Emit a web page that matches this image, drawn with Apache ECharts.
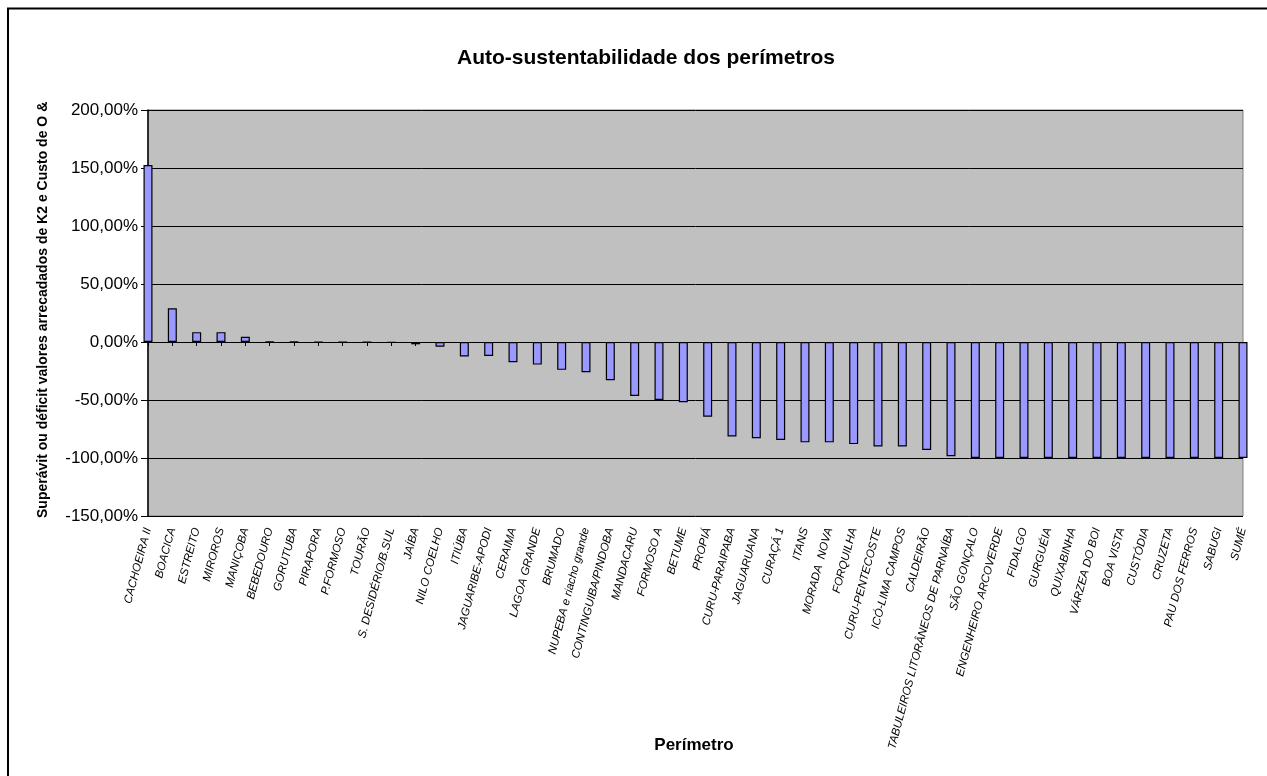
<!DOCTYPE html>
<html>
<head>
<meta charset="utf-8">
<script src="https://cdn.jsdelivr.net/npm/echarts@6/dist/echarts.min.js"></script>
<style>
  html, body { margin: 0; padding: 0; background: #fff; }
  #chart { width: 1267px; height: 776px; }
</style>
</head>
<body>
<div id="chart"></div>
<script>
// Perimeters, ordered from surplus to deficit
const perimetros = [
  'CACHOEIRA II', 'BOACICA', 'ESTREITO', 'MIROROS', 'MANIÇOBA', 'BEBEDOURO',
  'GORUTUBA', 'PIRAPORA', 'P.FORMOSO', 'TOURÃO', 'S. DESIDÉRIO/B.SUL', 'JAÍBA',
  'NILO COELHO', 'ITIÚBA', 'JAGUARIBE-APODI', 'CERAIMA', 'LAGOA GRANDE', 'BRUMADO',
  'NUPEBA e riacho grande', 'CONTINGUIBA/PINDOBA', 'MANDACARU', 'FORMOSO A', 'BETUME',
  'PROPIÁ', 'CURU-PARAIPABA', 'JAGUARUANA', 'CURAÇÁ 1', 'ITANS', 'MORADA  NOVA',
  'FORQUILHA', 'CURU-PENTECOSTE', 'ICÓ-LIMA CAMPOS', 'CALDEIRÃO',
  'TABULEIROS LITORÂNEOS DE PARNAÍBA', 'SÃO GONÇALO', 'ENGENHEIRO ARCOVERDE',
  'FIDALGO', 'GURGUÉIA', 'QUIXABINHA', 'VÁRZEA DO BOI', 'BOA VISTA', 'CUSTÓDIA',
  'CRUZETA', 'PAU DOS FERROS', 'SABUGI', 'SUMÉ'
];

// Surplus (+) or deficit (-) of K2 revenue against O & M cost, in percent
const saldoPercentual = [
  152.5, 29, 8.5, 8.5, 4.5, 0.4,
  0.3, 0, 0, 0, -0.4, -2,
  -4, -12.5, -12, -17.5, -19.5, -24,
  -26, -33, -46.5, -50, -52,
  -64.5, -81.5, -83, -84.5, -86.5, -86.5,
  -88, -90, -90, -93,
  -98.5, -100, -100,
  -100, -100, -100, -100, -100, -100,
  -100, -100, -100, -100
];

// Value axis tick settings (percent)
const eixoY = { min: -150, max: 200, step: 50 };

const FONT = '"Liberation Sans", Arial, sans-serif';
const fmtPct = v => v.toFixed(2).replace('.', ',') + '%';

const chart = echarts.init(document.getElementById('chart'), null, { renderer: 'canvas' });

chart.setOption({
  animation: false,
  backgroundColor: '#ffffff',
  title: {
    text: 'Auto-sustentabilidade dos perímetros',
    left: 641,
    textAlign: 'center',
    top: 43,
    textStyle: { fontFamily: FONT, fontSize: 21, fontWeight: 'bold', color: '#000' }
  },
  grid: {
    left: 148, right: 24, top: 110, bottom: 260,
    show: true,
    backgroundColor: '#c0c0c0',
    borderColor: '#808080',
    borderWidth: 1
  },
  xAxis: [
    {
      // category labels along the bottom of the plot
      type: 'category',
      data: perimetros,
      boundaryGap: false,
      position: 'bottom',
      axisLine: { show: false, onZero: false },
      axisTick: { show: false },
      axisLabel: {
        interval: 0,
        rotate: 75,
        margin: 12,
        fontFamily: FONT,
        fontSize: 11.5,
        fontStyle: 'italic',
        color: '#000'
      },
      splitLine: { show: false }
    },
    {
      // zero line with its category ticks
      type: 'category',
      data: perimetros,
      boundaryGap: false,
      position: 'bottom',
      axisLine: { show: true, onZero: true, lineStyle: { color: '#000', width: 1 } },
      axisTick: { show: true, interval: 0, length: 4, lineStyle: { color: '#000', width: 1 } },
      axisLabel: { show: false },
      splitLine: { show: false }
    }
  ],
  yAxis: {
    type: 'value',
    min: eixoY.min,
    max: eixoY.max,
    interval: eixoY.step,
    axisLine: { show: true, lineStyle: { color: '#000', width: 1.5 } },
    axisTick: { show: true, length: 7, lineStyle: { color: '#000', width: 1 } },
    axisLabel: {
      formatter: fmtPct,
      fontFamily: FONT,
      fontSize: 17,
      color: '#000',
      margin: 10
    },
    splitLine: { show: true, lineStyle: { color: '#000', width: 1 } }
  },
  series: [{
    type: 'bar',
    xAxisIndex: 0,
    data: saldoPercentual,
    barWidth: 9,
    clip: true,
    itemStyle: { color: '#9999ff', borderColor: '#000', borderWidth: 1.2 }
  }],
  graphic: [
    {
      // outer frame (top and left edges)
      type: 'polyline',
      shape: { points: [[8, 776], [8, 8.5], [1267, 8.5]] },
      style: { stroke: '#000', lineWidth: 2, fill: null },
      z: 10
    },
    {
      type: 'text',
      x: 43,
      y: 518,
      rotation: Math.PI / 2,
      style: {
        text: 'Superávit ou déficit valores arrecadados de K2 e Custo de O & M',
        font: 'bold 14px ' + FONT,
        fill: '#000',
        textAlign: 'left',
        textVerticalAlign: 'middle'
      },
      z: 10
    },
    {
      // keep the long axis title inside the chart's top margin
      type: 'rect',
      shape: { x: 30, y: 60, width: 30, height: 38 },
      style: { fill: '#ffffff' },
      z: 11
    },
    {
      type: 'text',
      x: 694,
      y: 745,
      style: {
        text: 'Perímetro',
        font: 'bold 17px ' + FONT,
        fill: '#000',
        textAlign: 'center',
        textVerticalAlign: 'middle'
      },
      z: 10
    }
  ]
});
</script>
</body>
</html>
